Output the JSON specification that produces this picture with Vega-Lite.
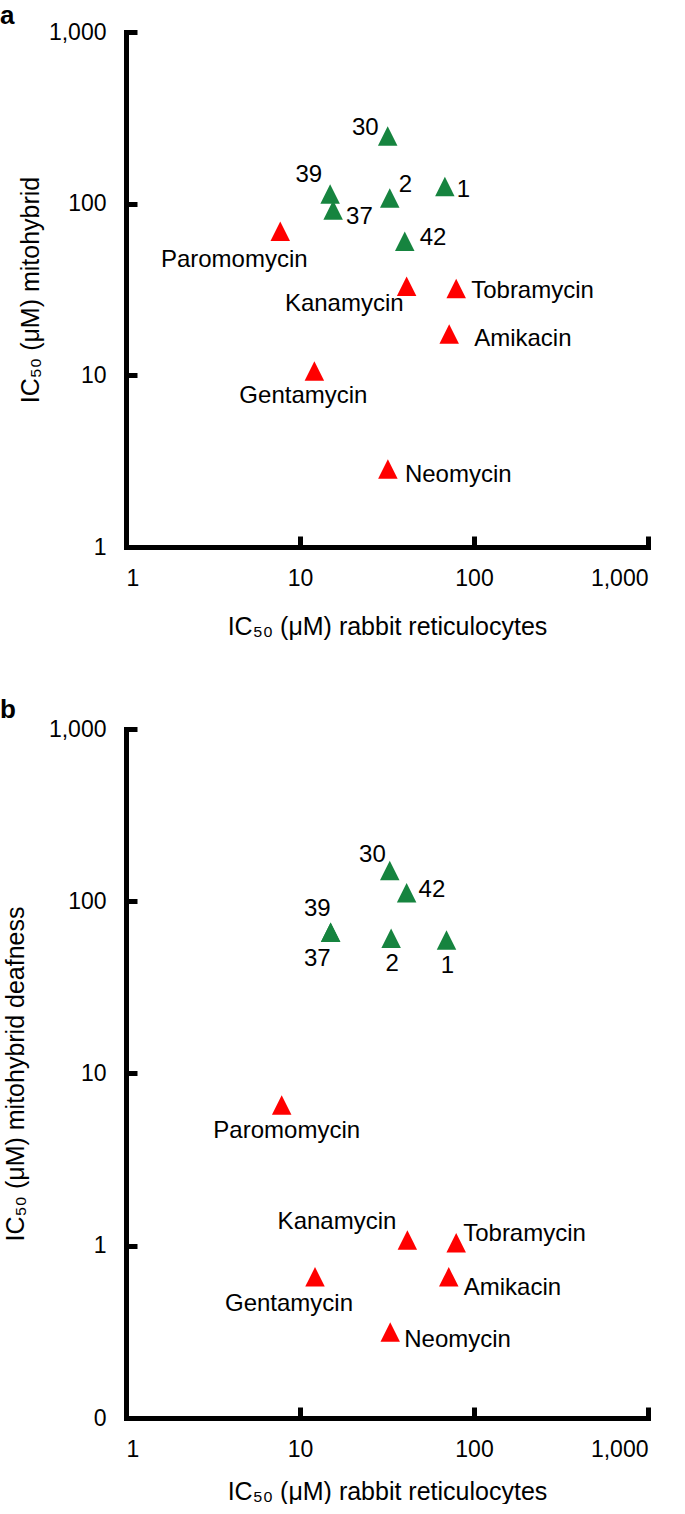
{
  "$schema": "https://vega.github.io/schema/vega-lite/v6.json",
  "padding": {"top": 3, "left": 0, "right": 0, "bottom": 0},
  "autosize": {"type": "pad"},
  "background": "white",
  "columns": 1,
  "align": "none",
  "spacing": 58,
  "config": {
    "font": "Liberation Sans",
    "view": {"stroke": null},
    "axis": {
      "domainColor": "black",
      "domainWidth": 5,
      "domainCap": "square",
      "tickColor": "black",
      "tickWidth": 5,
      "tickSize": -11,
      "grid": false,
      "labelFont": "Liberation Sans",
      "labelFontSize": 23,
      "labelColor": "black",
      "labelPadding": 31,
      "titleFont": "Liberation Sans",
      "titleFontSize": 25,
      "titleFontWeight": "normal",
      "titleColor": "black"
    },
    "text": {"font": "Liberation Sans", "fontSize": 24, "color": "black"}
  },
  "concat": [
    {
      "width": 522,
      "height": 515,
      "title": {"text": "a", "anchor": "start", "frame": "group", "dx": -126, "offset": -8, "fontSize": 26, "fontWeight": "bold", "color": "black", "font": "Liberation Sans"},
      "data": {"values": [
        {"name": "30", "cls": "compound", "rabbit": 31.9, "mito": 248},
        {"name": "39", "cls": "compound", "rabbit": 14.9, "mito": 114},
        {"name": "37", "cls": "compound", "rabbit": 15.5, "mito": 92},
        {"name": "2", "cls": "compound", "rabbit": 32.8, "mito": 108},
        {"name": "1", "cls": "compound", "rabbit": 68, "mito": 126},
        {"name": "42", "cls": "compound", "rabbit": 40, "mito": 60.5},
        {"name": "Paromomycin", "cls": "aminoglycoside", "rabbit": 7.7, "mito": 69},
        {"name": "Kanamycin", "cls": "aminoglycoside", "rabbit": 41, "mito": 33},
        {"name": "Tobramycin", "cls": "aminoglycoside", "rabbit": 79, "mito": 32},
        {"name": "Amikacin", "cls": "aminoglycoside", "rabbit": 72, "mito": 17.4},
        {"name": "Gentamycin", "cls": "aminoglycoside", "rabbit": 12.1, "mito": 10.6},
        {"name": "Neomycin", "cls": "aminoglycoside", "rabbit": 32, "mito": 2.85}
      ]},
      "encoding": {
        "x": {"field": "rabbit", "type": "quantitative", "scale": {"type": "log", "domain": [1, 1000], "nice": false}, "axis": {"values": [1, 10, 100, 1000], "format": ",", "title": "IC₅₀ (μM) rabbit reticulocytes", "titlePadding": 24}},
        "y": {"field": "mito", "type": "quantitative", "scale": {"type": "log", "domain": [1, 1000], "nice": false}, "axis": {"values": [1, 10, 100, 1000], "format": ",", "title": "IC₅₀ (μM) mitohybrid", "titlePadding": 5}}
      },
      "layer": [
        {"mark": {"type": "point", "shape": "M0,-1L1,1L-1,1Z", "filled": true, "size": 380, "opacity": 1, "strokeWidth": 0},
         "encoding": {"color": {"field": "cls", "type": "nominal", "scale": {"domain": ["compound", "aminoglycoside"], "range": ["#16843f", "#ff0000"]}, "legend": null}}},
        {"transform": [{"filter": {"field": "name", "oneOf": ["30"]}}], "mark": {"type": "text", "align": "right", "baseline": "middle", "dx": -9, "dy": -8}, "encoding": {"text": {"field": "name"}}},
        {"transform": [{"filter": {"field": "name", "oneOf": ["39"]}}], "mark": {"type": "text", "align": "right", "baseline": "middle", "dx": -8, "dy": -19}, "encoding": {"text": {"field": "name"}}},
        {"transform": [{"filter": {"field": "name", "oneOf": ["37"]}}], "mark": {"type": "text", "align": "left", "baseline": "middle", "dx": 13, "dy": 7}, "encoding": {"text": {"field": "name"}}},
        {"transform": [{"filter": {"field": "name", "oneOf": ["2"]}}], "mark": {"type": "text", "align": "left", "baseline": "middle", "dx": 9, "dy": -13}, "encoding": {"text": {"field": "name"}}},
        {"transform": [{"filter": {"field": "name", "oneOf": ["1"]}}], "mark": {"type": "text", "align": "left", "baseline": "middle", "dx": 12, "dy": 4}, "encoding": {"text": {"field": "name"}}},
        {"transform": [{"filter": {"field": "name", "oneOf": ["42"]}}], "mark": {"type": "text", "align": "left", "baseline": "middle", "dx": 15, "dy": -3}, "encoding": {"text": {"field": "name"}}},
        {"transform": [{"filter": {"field": "name", "oneOf": ["Paromomycin"]}}], "mark": {"type": "text", "align": "center", "baseline": "middle", "dx": -46, "dy": 29}, "encoding": {"text": {"field": "name"}}},
        {"transform": [{"filter": {"field": "name", "oneOf": ["Kanamycin"]}}], "mark": {"type": "text", "align": "right", "baseline": "middle", "dx": -3, "dy": 18}, "encoding": {"text": {"field": "name"}}},
        {"transform": [{"filter": {"field": "name", "oneOf": ["Tobramycin"]}}], "mark": {"type": "text", "align": "left", "baseline": "middle", "dx": 15, "dy": 2}, "encoding": {"text": {"field": "name"}}},
        {"transform": [{"filter": {"field": "name", "oneOf": ["Amikacin"]}}], "mark": {"type": "text", "align": "left", "baseline": "middle", "dx": 25, "dy": 5}, "encoding": {"text": {"field": "name"}}},
        {"transform": [{"filter": {"field": "name", "oneOf": ["Gentamycin"]}}], "mark": {"type": "text", "align": "center", "baseline": "middle", "dx": -11, "dy": 25}, "encoding": {"text": {"field": "name"}}},
        {"transform": [{"filter": {"field": "name", "oneOf": ["Neomycin"]}}], "mark": {"type": "text", "align": "left", "baseline": "middle", "dx": 17, "dy": 6}, "encoding": {"text": {"field": "name"}}}
      ]
    },
    {
      "width": 522,
      "height": 689,
      "title": {"text": "b", "anchor": "start", "frame": "group", "dx": -126, "offset": -5, "fontSize": 26, "fontWeight": "bold", "color": "black", "font": "Liberation Sans"},
      "data": {"values": [
        {"name": "30", "cls": "compound", "rabbit": 32.8, "deaf": 151},
        {"name": "42", "cls": "compound", "rabbit": 41, "deaf": 112},
        {"name": "39", "cls": "compound", "rabbit": 15, "deaf": 66},
        {"name": "37", "cls": "compound", "rabbit": 15, "deaf": 66},
        {"name": "2", "cls": "compound", "rabbit": 33.4, "deaf": 61},
        {"name": "1", "cls": "compound", "rabbit": 69.5, "deaf": 59.6},
        {"name": "Paromomycin", "cls": "aminoglycoside", "rabbit": 7.85, "deaf": 6.56},
        {"name": "Kanamycin", "cls": "aminoglycoside", "rabbit": 41.4, "deaf": 1.08},
        {"name": "Tobramycin", "cls": "aminoglycoside", "rabbit": 79, "deaf": 1.04},
        {"name": "Gentamycin", "cls": "aminoglycoside", "rabbit": 12.2, "deaf": 0.66},
        {"name": "Amikacin", "cls": "aminoglycoside", "rabbit": 71.6, "deaf": 0.66},
        {"name": "Neomycin", "cls": "aminoglycoside", "rabbit": 33, "deaf": 0.316}
      ]},
      "encoding": {
        "x": {"field": "rabbit", "type": "quantitative", "scale": {"type": "log", "domain": [1, 1000], "nice": false}, "axis": {"values": [1, 10, 100, 1000], "format": ",", "title": "IC₅₀ (μM) rabbit reticulocytes", "titlePadding": 18}},
        "y": {"field": "deaf", "type": "quantitative", "scale": {"type": "log", "domain": [0.1, 1000], "nice": false}, "axis": {"values": [0.1, 1, 10, 100, 1000], "labelExpr": "datum.value < 1 ? '0' : format(datum.value, ',')", "title": "IC₅₀ (μM) mitohybrid deafness", "titlePadding": 20}}
      },
      "layer": [
        {"mark": {"type": "point", "shape": "M0,-1L1,1L-1,1Z", "filled": true, "size": 380, "opacity": 1, "strokeWidth": 0},
         "encoding": {"color": {"field": "cls", "type": "nominal", "scale": {"domain": ["compound", "aminoglycoside"], "range": ["#16843f", "#ff0000"]}, "legend": null}}},
        {"transform": [{"filter": {"field": "name", "oneOf": ["30"]}}], "mark": {"type": "text", "align": "right", "baseline": "middle", "dx": -4, "dy": -15}, "encoding": {"text": {"field": "name"}}},
        {"transform": [{"filter": {"field": "name", "oneOf": ["42"]}}], "mark": {"type": "text", "align": "left", "baseline": "middle", "dx": 12, "dy": -3}, "encoding": {"text": {"field": "name"}}},
        {"transform": [{"filter": {"field": "name", "oneOf": ["39"]}}], "mark": {"type": "text", "align": "right", "baseline": "middle", "dx": 0, "dy": -23}, "encoding": {"text": {"field": "name"}}},
        {"transform": [{"filter": {"field": "name", "oneOf": ["37"]}}], "mark": {"type": "text", "align": "right", "baseline": "middle", "dx": 0, "dy": 27}, "encoding": {"text": {"field": "name"}}},
        {"transform": [{"filter": {"field": "name", "oneOf": ["2", "1"]}}], "mark": {"type": "text", "align": "center", "baseline": "middle", "dx": 1, "dy": 26}, "encoding": {"text": {"field": "name"}}},
        {"transform": [{"filter": {"field": "name", "oneOf": ["Paromomycin"]}}], "mark": {"type": "text", "align": "center", "baseline": "middle", "dx": 5, "dy": 26}, "encoding": {"text": {"field": "name"}}},
        {"transform": [{"filter": {"field": "name", "oneOf": ["Kanamycin"]}}], "mark": {"type": "text", "align": "right", "baseline": "middle", "dx": -11, "dy": -18}, "encoding": {"text": {"field": "name"}}},
        {"transform": [{"filter": {"field": "name", "oneOf": ["Tobramycin"]}}], "mark": {"type": "text", "align": "left", "baseline": "middle", "dx": 7, "dy": -9}, "encoding": {"text": {"field": "name"}}},
        {"transform": [{"filter": {"field": "name", "oneOf": ["Gentamycin"]}}], "mark": {"type": "text", "align": "center", "baseline": "middle", "dx": -26, "dy": 27}, "encoding": {"text": {"field": "name"}}},
        {"transform": [{"filter": {"field": "name", "oneOf": ["Amikacin"]}}], "mark": {"type": "text", "align": "left", "baseline": "middle", "dx": 15, "dy": 11}, "encoding": {"text": {"field": "name"}}},
        {"transform": [{"filter": {"field": "name", "oneOf": ["Neomycin"]}}], "mark": {"type": "text", "align": "left", "baseline": "middle", "dx": 14, "dy": 8}, "encoding": {"text": {"field": "name"}}}
      ]
    }
  ]
}
